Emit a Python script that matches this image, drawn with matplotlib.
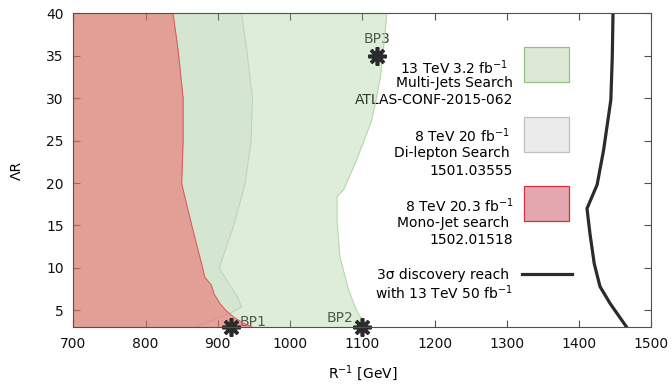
import matplotlib
matplotlib.use("Agg")
import matplotlib.pyplot as plt
from matplotlib.patches import Rectangle

# exclusion boundaries (R^-1 in GeV vs Lambda R)
multi_y = [40, 36.5, 32.5, 30.2, 27.4, 24.7, 21.9, 19.2, 18.4, 15.6, 11.3, 7.4, 5.0, 3]
multi_x = [1134, 1130, 1125, 1120, 1113, 1101, 1088, 1074, 1065, 1065, 1069, 1081, 1092, 1106]

dilep_y = [40, 35.7, 30, 25, 20, 15, 10, 8.6, 6.6, 5.4, 4.65, 3]
dilep_x = [933, 940, 948, 946, 938, 922, 902, 912, 927, 933, 917, 869]

mono_y = [40, 35.7, 30, 25, 20, 19.2, 15, 10, 8.9, 8, 6.9, 5.8, 5, 4.2, 3.6, 3]
mono_x = [838, 845, 852, 852, 850, 852, 864, 879, 882, 891, 895, 903, 911, 922, 933, 948]

# 3 sigma discovery reach
reach_y = [40, 34.9, 29.8, 23.9, 19.8, 17.0, 14.1, 10.5, 7.8, 5.8, 3]
reach_x = [1447, 1446, 1444, 1434, 1425, 1411, 1415, 1421, 1429, 1443, 1466]

# benchmark points
bp_names = ["BP1", "BP2", "BP3"]
bp_x = [918, 1100, 1120]
bp_y = [3, 3, 35]

plt.rcParams['font.family'] = ['DejaVu Sans']
plt.rcParams['font.size'] = 10

fig = plt.figure(figsize=(6.72, 3.84), dpi=100)
ax = fig.add_axes([0.1091, 0.1477, 0.8601, 0.8176])
ax.set_xlim(700, 1500)
ax.set_ylim(3, 40)

# regions
ax.fill_betweenx(dilep_y, 700, dilep_x, color='#c8d0c8', alpha=0.2, lw=0, zorder=1)
ax.plot(dilep_x, dilep_y, color='#d6d6d6', lw=0.7, zorder=1)
ax.fill_betweenx(multi_y, 700, multi_x, color='#8fc47f', alpha=0.3, lw=0, zorder=3)
ax.plot(multi_x, multi_y, color='#b3d6a6', lw=0.7, zorder=3)
ax.fill_betweenx(mono_y, 700, mono_x, color='#ef595d', alpha=0.5, lw=0, zorder=4)
ax.plot(mono_x, mono_y, color='#dc5560', lw=0.7, zorder=4)

ax.plot(reach_x, reach_y, color='#2b2b2b', lw=2.3, zorder=5)

ax.plot(bp_x, bp_y, ls='none', marker=(8, 2, 0), ms=13, mew=2.6,
        color='#2b2b2b', zorder=6, clip_on=False)
ax.text(bp_x[0] + 12, bp_y[0] + 0.65, bp_names[0], ha='left', va='center', color='#303030', zorder=2)
ax.text(bp_x[1] - 13, bp_y[1] + 1.15, bp_names[1], ha='right', va='center', color='#303030', zorder=2)
ax.text(bp_x[2], bp_y[2] + 2.0, bp_names[2], ha='center', va='center', color='#303030', zorder=2)

# key (text baselines)
key = [
    (["13 TeV 3.2 fb$^{-1}$", "Multi-Jets Search", "ATLAS-CONF-2015-062"],
     [32.9, 31.3, 29.3], [1302, 1309, 1309], '#dde9d6', '#8fc47f', 31.87),
    (["8 TeV 20 fb$^{-1}$", "Di-lepton Search", "1501.03555"],
     [24.87, 23.1, 20.94], [1303.5, 1303.5, 1309], '#ebebeb', '#c0c0c0', 23.62),
    (["8 TeV 20.3 fb$^{-1}$", "Mono-Jet search", "1502.01518"],
     [16.62, 14.85, 12.78], [1309, 1303.5, 1309], '#e4a7b0', '#d03040', 15.49),
]
for lines, ys, xs, fc, ec, y0 in key:
    for s, yy, xx in zip(lines, ys, xs):
        ax.text(xx, yy, s, ha='right', va='baseline', color='black', zorder=2)
    ax.add_patch(Rectangle((1324, y0), 62.5, 4.13, facecolor=fc, edgecolor=ec, lw=0.9, zorder=5))

ax.text(1303.5, 8.69, "3σ discovery reach", ha='right', va='baseline', zorder=2)
ax.text(1309, 6.33, "with 13 TeV 50 fb$^{-1}$", ha='right', va='baseline', zorder=2)
ax.plot([1321, 1390], [9.28, 9.28], color='#2b2b2b', lw=2.3, zorder=5)

ax.set_xticks(range(700, 1501, 100))
ax.set_yticks(range(5, 41, 5))
ax.tick_params(direction='in', length=5, width=0.8, color='#505050', pad=7,
               top=True, right=True, labelcolor='#111111')
for sp in ax.spines.values():
    sp.set_color('#505050')
    sp.set_linewidth(0.8)
    sp.set_zorder(7)

ax.set_xlabel("R$^{-1}$ [GeV]", labelpad=9)
ax.set_ylabel("ΛR", labelpad=16)

fig.savefig("out.png", dpi=100)
